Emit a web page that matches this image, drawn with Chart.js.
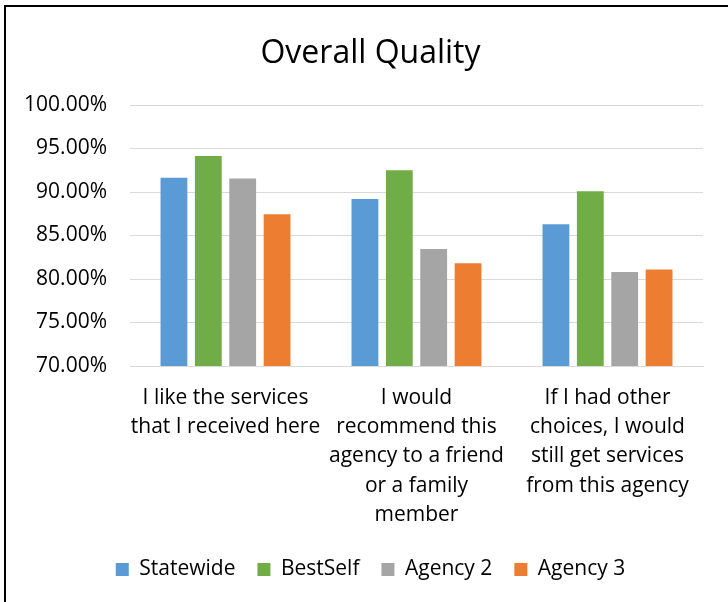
<!DOCTYPE html>
<html>
<head>
<meta charset="utf-8">
<title>Overall Quality</title>
<script src="https://cdn.jsdelivr.net/npm/chart.js@4"></script>
<style>
  html, body { margin: 0; padding: 0; background: #fff; overflow: hidden; }
  #frame {
    position: absolute; left: 4px; top: 5px;
    width: 740px; height: 620px;
    border: 2px solid #000;
  }
  #wrap { position: absolute; left: 0; top: 0; width: 728px; height: 602px; }
</style>
</head>
<body>
<div id="frame"></div>
<div id="wrap"><canvas id="qualityChart" width="728" height="602"></canvas></div>
<script>
// survey questions (already split into lines the way they wrap under the bars)
const questions = [
  ["I like the services", "that I received here"],
  ["I would", "recommend this", "agency to a friend", "or a family", "member"],
  ["If I had other", "choices, I would", "still get services", "from this agency"]
];

const statewide = [91.65, 89.2, 86.3];
const bestSelf = [94.15, 92.5, 90.1];
const agency2 = [91.55, 83.45, 80.8];
const agency3 = [87.45, 81.8, 81.1];

const yTicks = [70, 75, 80, 85, 90, 95, 100];

const FONT = "'Open Sans', Lato, sans-serif";

// title and legend sit centred on the whole frame, not on the plot box
const centerOnFrame = {
  id: "centerOnFrame",
  afterLayout(chart) {
    [chart.titleBlock, chart.legend].forEach((box) => {
      if (box) { box.left += 10; box.right += 10; }
    });
  }
};

const ctx = document.getElementById("qualityChart").getContext("2d");
const qualityChart = new Chart(ctx, {
  type: "bar",
  data: {
    labels: questions,
    datasets: [
      { label: "Statewide", data: statewide, backgroundColor: "#5B9BD5" },
      { label: "BestSelf", data: bestSelf, backgroundColor: "#70AD47" },
      { label: "Agency 2", data: agency2, backgroundColor: "#A5A5A5" },
      { label: "Agency 3", data: agency3, backgroundColor: "#ED7D31" }
    ]
  },
  plugins: [centerOnFrame],
  options: {
    responsive: false,
    animation: false,
    devicePixelRatio: 1,
    datasets: {
      bar: { categoryPercentage: 0.72, barPercentage: 0.78 }
    },
    layout: { padding: { left: 18, right: 25, top: 0, bottom: 12 } },
    plugins: {
      tooltip: { enabled: false },
      title: {
        display: true,
        text: "Overall Quality",
        color: "#000",
        font: { family: FONT, size: 32, weight: "normal" },
        padding: { top: 35, bottom: 31.6 }
      },
      legend: {
        position: "bottom",
        labels: {
          color: "#000",
          font: { family: FONT, size: 21 },
          boxWidth: 13,
          boxHeight: 13,
          padding: 22
        }
      }
    },
    scales: {
      x: {
        grid: { display: false, drawTicks: false },
        border: { color: "#D9D9D9", width: 1 },
        ticks: {
          color: "#000",
          padding: 17,
          maxRotation: 0,
          autoSkip: false,
          font: { family: FONT, size: 21, lineHeight: 1.4 }
        },
        afterFit: (scale) => { scale.height = 171; }
      },
      y: {
        min: 70,
        max: 100,
        afterBuildTicks: (scale) => {
          scale.ticks = yTicks.map((v) => ({ value: v }));
        },
        grid: { color: "#D9D9D9", lineWidth: 1, drawTicks: false },
        border: { display: false },
        ticks: {
          color: "#000",
          padding: 23,
          font: { family: FONT, size: 21 },
          callback: (v) => v.toFixed(2) + "%"
        },
        afterFit: (scale) => { scale.width = 112; }
      }
    }
  }
});
</script>
</body>
</html>
